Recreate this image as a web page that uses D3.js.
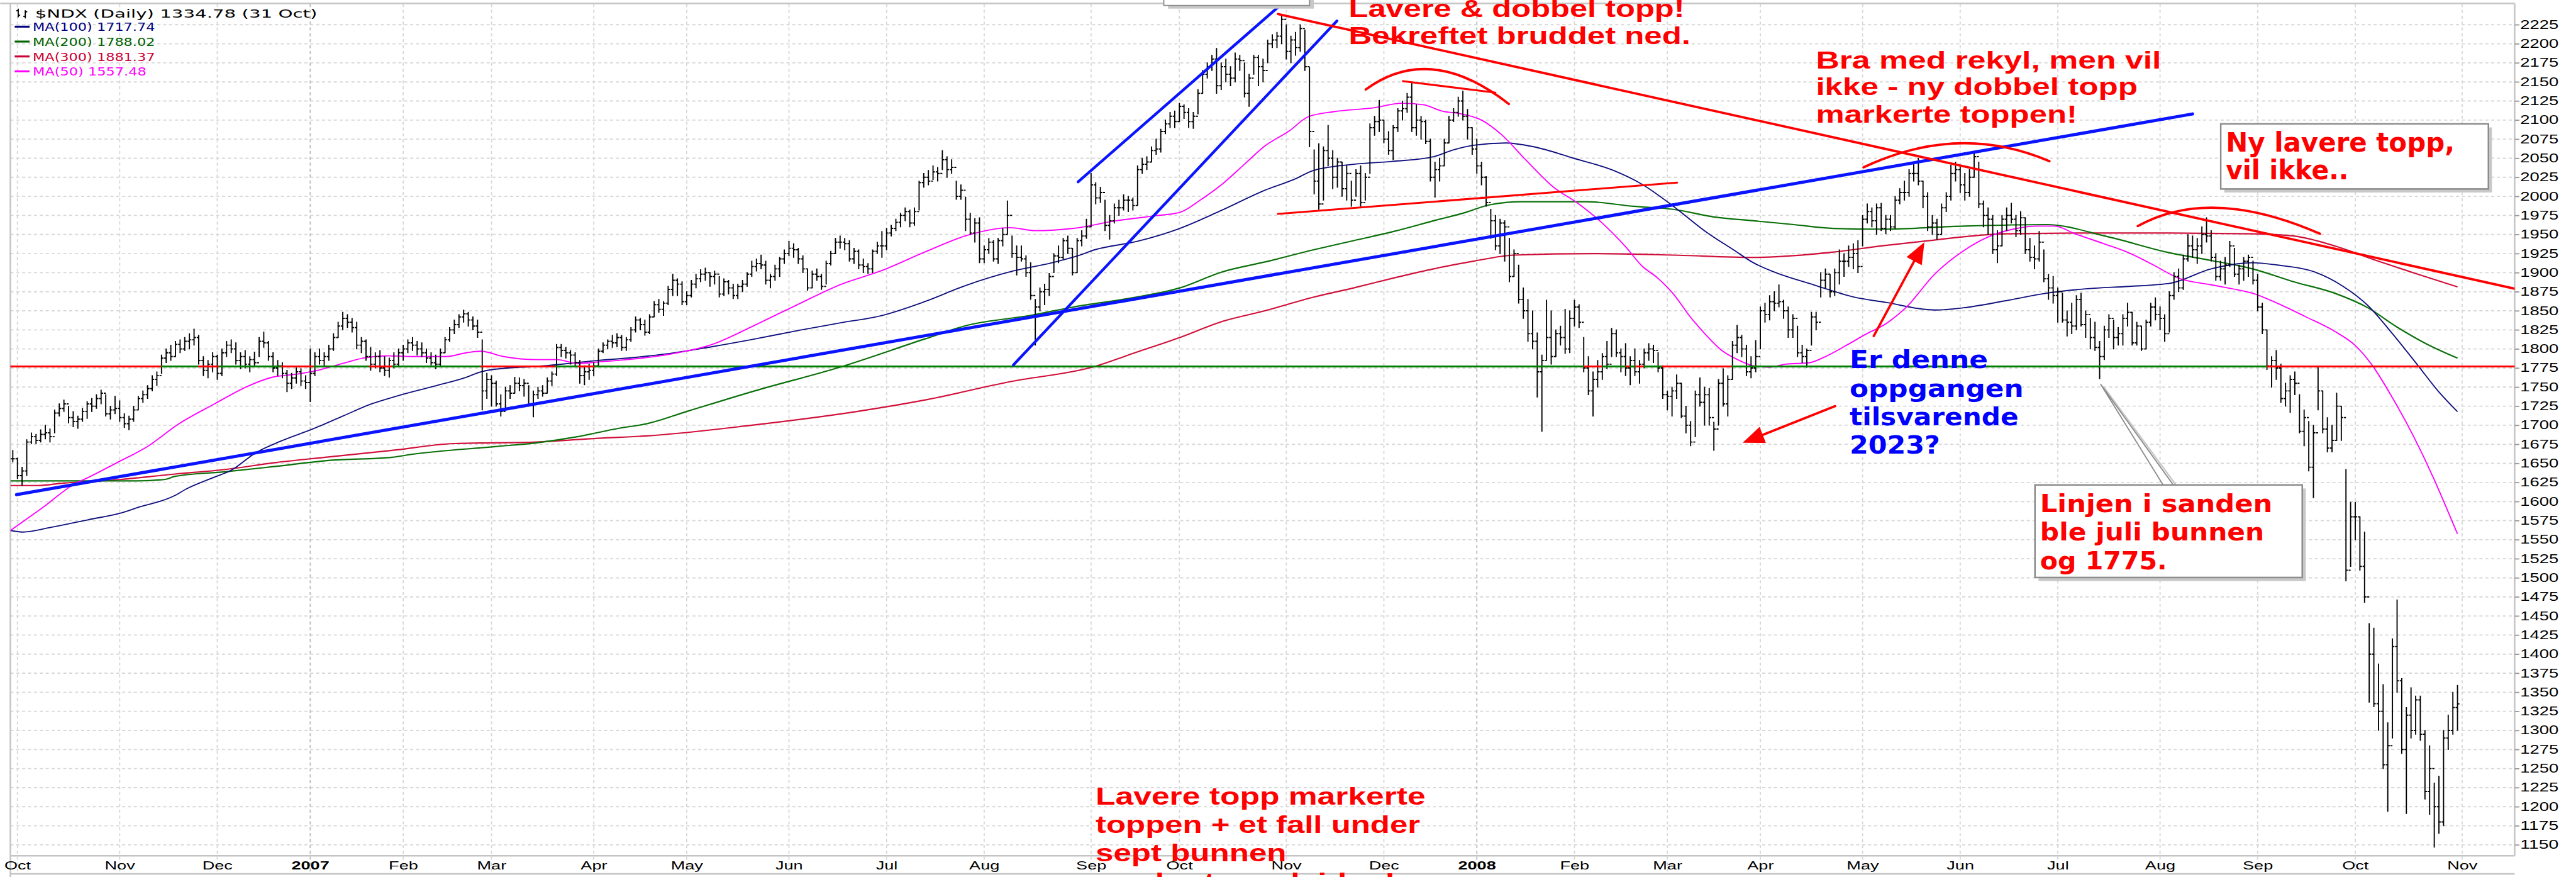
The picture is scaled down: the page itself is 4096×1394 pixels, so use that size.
<!DOCTYPE html>
<html>
<head>
<meta charset="utf-8">
<script src="https://cdn.jsdelivr.net/npm/d3@7/dist/d3.min.js"></script>
<style>
  html, body { margin: 0; padding: 0; background: #fff; overflow: hidden; }
  svg { display: block; }
</style>
</head>
<body>
<script>
// Daily bars: [high, low, close], one array per month
const sep06 = [[1667,1652,1656]];
const oct06 = [[1657,1630,1634],[1645,1621,1640],[1681,1634,1678],[1690,1676,1685],[1688,1676,1680],[1694,1678,1688],[1700,1682,1690],[1695,1678,1685],[1720,1690,1716],[1728,1712,1722],[1733,1718,1728],[1725,1703,1710],[1718,1698,1705],[1712,1696,1708],[1722,1705,1718],[1731,1709,1728],[1735,1718,1725],[1740,1722,1735],[1746,1728,1742],[1740,1712,1715],[1725,1708,1720],[1738,1715,1722]];
const nov06 = [[1732,1705,1710],[1715,1697,1702],[1712,1694,1708],[1725,1705,1720],[1738,1720,1735],[1745,1730,1740],[1752,1735,1748],[1765,1745,1760],[1770,1752,1765],[1792,1768,1788],[1800,1782,1795],[1805,1785,1790],[1810,1790,1806],[1812,1795,1800],[1815,1798,1810],[1820,1800,1812],[1826,1805,1815],[1818,1780,1785],[1790,1765,1772],[1785,1762,1780],[1795,1770,1790]];
const dec06 = [[1792,1760,1768],[1800,1765,1795],[1810,1790,1805],[1812,1795,1800],[1808,1780,1785],[1795,1774,1790],[1798,1775,1780],[1790,1770,1786],[1796,1778,1782],[1815,1790,1810],[1822,1802,1808],[1810,1785,1790],[1795,1770,1775],[1785,1765,1778],[1782,1762,1768],[1772,1744,1755],[1768,1748,1762],[1775,1755,1770],[1774,1752,1758],[1765,1748,1756]];
const jan07 = [[1800,1731,1768],[1795,1765,1790],[1800,1780,1785],[1795,1778,1790],[1805,1785,1800],[1820,1798,1815],[1835,1815,1830],[1848,1825,1840],[1845,1828,1835],[1840,1822,1828],[1835,1800,1805],[1815,1795,1810],[1812,1785,1790],[1802,1772,1780],[1795,1775,1790],[1798,1770,1775],[1790,1765,1772],[1788,1763,1785],[1795,1775,1780],[1800,1778,1795]];
const feb07 = [[1805,1785,1800],[1812,1795,1808],[1815,1798,1805],[1810,1792,1800],[1808,1790,1795],[1800,1782,1788],[1795,1779,1782],[1792,1774,1780],[1800,1778,1795],[1815,1795,1812],[1828,1810,1825],[1838,1820,1832],[1845,1828,1842],[1851,1835,1846],[1848,1830,1838],[1842,1825,1830],[1838,1815,1822],[1812,1720,1745],[1768,1735,1760]];
const mar07 = [[1765,1725,1755],[1758,1725,1728],[1740,1712,1718],[1750,1722,1745],[1752,1735,1742],[1763,1742,1755],[1762,1745,1752],[1760,1738,1755],[1752,1725,1728],[1745,1711,1740],[1750,1735,1745],[1752,1738,1742],[1762,1742,1758],[1770,1752,1767],[1806,1765,1802],[1806,1790,1798],[1802,1788,1795],[1798,1780,1792],[1795,1777,1782],[1785,1755,1765],[1778,1753,1770],[1780,1760,1772]];
const apr07 = [[1782,1765,1778],[1800,1778,1797],[1808,1795,1805],[1812,1800,1810],[1818,1802,1808],[1820,1803,1815],[1818,1798,1802],[1815,1798,1812],[1828,1810,1825],[1842,1822,1838],[1840,1825,1832],[1838,1818,1822],[1845,1820,1842],[1862,1842,1858],[1865,1848,1852],[1862,1844,1860],[1882,1858,1878],[1898,1870,1890],[1892,1870,1885],[1888,1858,1862]];
const may07 = [[1875,1858,1870],[1890,1868,1885],[1898,1880,1892],[1904,1888,1898],[1906,1890,1900],[1900,1882,1895],[1902,1885,1898],[1895,1868,1872],[1892,1870,1888],[1890,1872,1880],[1885,1866,1870],[1885,1866,1882],[1890,1875,1885],[1900,1882,1898],[1915,1895,1908],[1918,1902,1912],[1923,1905,1910],[1915,1885,1890],[1898,1880,1895],[1910,1890,1905],[1920,1895,1918],[1930,1912,1925]];
const jun07 = [[1941,1922,1932],[1938,1920,1930],[1932,1912,1918],[1922,1900,1905],[1905,1877,1880],[1902,1880,1898],[1905,1890,1895],[1898,1878,1882],[1915,1885,1912],[1928,1910,1925],[1945,1925,1940],[1948,1932,1940],[1945,1930,1938],[1942,1915,1918],[1932,1912,1928],[1930,1905,1910],[1918,1900,1908],[1912,1899,1905],[1930,1900,1928],[1940,1925,1935],[1954,1920,1935]];
const jul07 = [[1958,1930,1952],[1962,1948,1958],[1970,1955,1966],[1978,1960,1975],[1985,1968,1980],[1982,1960,1965],[1985,1962,1980],[2020,1982,2018],[2030,2012,2025],[2034,2015,2020],[2040,2022,2032],[2038,2020,2030],[2060,2035,2048],[2052,2025,2035],[2048,2030,2038],[2020,1996,2000],[2015,1996,2008],[1999,1955,1970],[1978,1950,1952],[1971,1940,1965],[1972,1913,1918]];
const aug07 = [[1935,1913,1930],[1945,1925,1940],[1942,1915,1918],[1945,1912,1942],[1958,1935,1950],[1994,1950,1975],[1948,1920,1925],[1935,1897,1920],[1935,1915,1918],[1922,1895,1900],[1913,1865,1870],[1865,1805,1855],[1880,1850,1875],[1885,1858,1878],[1899,1870,1895],[1925,1900,1922],[1935,1913,1920],[1945,1918,1942],[1948,1925,1932],[1932,1897,1900],[1945,1900,1942],[1955,1935,1948],[1970,1945,1960]];
const sep07 = [[2030,1960,2015],[2018,1990,1998],[2012,1992,2005],[1995,1955,1962],[1975,1944,1968],[1990,1965,1985],[1995,1975,1985],[2002,1982,1995],[2000,1980,1995],[1998,1982,1988],[2040,1988,2035],[2050,2030,2042],[2052,2035,2045],[2065,2045,2060],[2075,2055,2062],[2088,2058,2085],[2100,2082,2095],[2110,2090,2105],[2112,2090,2098]];
const oct07 = [[2122,2098,2118],[2120,2102,2110],[2115,2090,2098],[2110,2089,2105],[2140,2108,2135],[2165,2135,2160],[2175,2155,2170],[2185,2165,2180],[2194,2135,2145],[2175,2140,2170],[2180,2150,2160],[2170,2145,2155],[2188,2150,2180],[2185,2165,2178],[2175,2130,2135],[2160,2118,2155],[2185,2160,2182],[2185,2145,2170],[2180,2150,2165],[2205,2175,2200],[2212,2195,2205],[2215,2195,2210],[2238,2200,2232]];
const nov07 = [[2225,2180,2190],[2210,2175,2205],[2215,2185,2195],[2225,2190,2220],[2218,2165,2170],[2169,2065,2085],[2061,2003,2020],[2069,1983,1990],[2065,1995,2060],[2093,2040,2050],[2060,2010,2025],[2050,2012,2045],[2045,2000,2010],[2040,1995,2030],[2020,1987,1995],[2035,2000,2030],[2040,1987,1992],[2030,1995,2025],[2095,2030,2090],[2105,2080,2098],[2126,2085,2100]];
const dec07 = [[2100,2070,2075],[2085,2055,2060],[2093,2048,2090],[2115,2085,2112],[2125,2100,2115],[2135,2110,2130],[2149,2085,2090],[2120,2080,2100],[2105,2075,2098],[2100,2069,2072],[2075,2020,2025],[2045,1999,2035],[2050,2020,2040],[2075,2040,2070],[2105,2070,2100],[2115,2098,2110],[2130,2105,2125],[2138,2100,2105],[2114,2075,2090],[2090,2055,2062]];
const jan08 = [[2075,2030,2040],[2045,2015,2025],[2026,1987,1992],[1983,1945,1968],[1975,1930,1935],[1970,1925,1965],[1968,1915,1960],[1945,1888,1895],[1930,1895,1925],[1910,1860,1865],[1880,1840,1850],[1865,1810,1820],[1850,1800,1810],[1821,1737,1770],[1792,1692,1785],[1864,1785,1815],[1850,1780,1790],[1825,1790,1820],[1830,1805,1815],[1852,1794,1800],[1850,1795,1840]];
const feb08 = [[1864,1830,1855],[1858,1828,1835],[1815,1770,1775],[1790,1740,1745],[1770,1712,1760],[1785,1750,1770],[1794,1760,1790],[1810,1774,1780],[1827,1790,1820],[1825,1790,1795],[1800,1770,1790],[1807,1765,1775],[1790,1753,1785],[1800,1765,1770],[1785,1755,1780],[1800,1775,1795],[1807,1785,1800],[1805,1782,1798],[1795,1770,1775],[1778,1735,1740]];
const mar08 = [[1745,1720,1738],[1750,1712,1745],[1766,1735,1755],[1755,1710,1712],[1725,1690,1700],[1705,1673,1678],[1745,1685,1740],[1762,1725,1730],[1750,1700,1740],[1748,1700,1710],[1704,1667,1695],[1760,1700,1755],[1774,1725,1728],[1765,1712,1760],[1810,1760,1805],[1831,1795,1815],[1818,1790,1800],[1805,1765,1770],[1790,1762,1775],[1811,1770,1790]];
const apr08 = [[1855,1800,1850],[1860,1835,1845],[1870,1838,1862],[1875,1850,1860],[1884,1855,1862],[1864,1840,1850],[1855,1815,1825],[1845,1815,1840],[1830,1790,1795],[1805,1782,1790],[1800,1776,1798],[1848,1805,1842],[1848,1825,1835],[1900,1868,1890],[1905,1880,1898],[1898,1868,1875],[1905,1870,1900],[1930,1885,1915],[1925,1895,1915],[1935,1908,1920],[1938,1905,1925],[1942,1900,1908]];
const may08 = [[1975,1935,1970],[1990,1965,1980],[1985,1960,1968],[1990,1950,1985],[1991,1955,1958],[1975,1951,1970],[1975,1955,1960],[2000,1958,1995],[2010,1990,2005],[2020,1995,2005],[2035,2000,2030],[2042,2020,2030],[2050,2015,2020],[2020,1985,2000],[2005,1955,1960],[1975,1950,1965],[1970,1944,1950],[1990,1950,1985],[2005,1980,2000],[2041,1995,2030],[2045,2020,2035]];
const jun08 = [[2040,2005,2015],[2030,1995,2005],[2035,2000,2025],[2056,2025,2052],[2045,1985,1990],[1994,1960,1975],[1985,1950,1970],[1975,1925,1930],[1955,1913,1935],[1975,1935,1970],[1985,1955,1975],[1991,1965,1970],[1975,1947,1955],[1980,1950,1972],[1972,1925,1930],[1945,1915,1920],[1935,1905,1918],[1954,1915,1940],[1930,1888,1892],[1898,1865,1880],[1895,1860,1870]];
const jul08 = [[1880,1835,1875],[1873,1835,1838],[1850,1817,1835],[1860,1820,1830],[1870,1825,1865],[1873,1830,1832],[1850,1815,1845],[1840,1800,1815],[1835,1798,1802],[1810,1761,1790],[1830,1786,1825],[1845,1815,1840],[1838,1800,1815],[1828,1805,1820],[1845,1805,1840],[1860,1830,1848],[1848,1805,1808],[1835,1805,1830],[1830,1798,1800],[1838,1800,1835],[1860,1830,1855],[1867,1838,1845]];
const aug08 = [[1855,1825,1840],[1845,1810,1820],[1875,1822,1870],[1900,1865,1895],[1905,1875,1880],[1923,1878,1918],[1950,1915,1935],[1948,1920,1930],[1945,1912,1935],[1960,1925,1950],[1972,1940,1948],[1955,1915,1920],[1925,1890,1895],[1915,1890,1905],[1920,1885,1910],[1941,1908,1935],[1932,1895,1898],[1910,1885,1905],[1920,1890,1915],[1923,1895,1920],[1915,1885,1890]];
const sep08 = [[1898,1850,1855],[1860,1820,1825],[1825,1773,1778],[1790,1750,1785],[1798,1760,1775],[1780,1730,1735],[1755,1725,1745],[1765,1717,1760],[1770,1740,1755],[1740,1690,1692],[1720,1673,1710],[1705,1640,1645],[1700,1605,1690],[1776,1720,1745],[1745,1690,1695],[1710,1665,1670],[1700,1665,1680],[1742,1680,1725],[1725,1680,1710],[1642,1496,1510],[1599,1515,1580]];
const oct08 = [[1599,1550,1580],[1580,1510,1515],[1560,1468,1475],[1440,1337,1400],[1434,1331,1335],[1387,1300,1325],[1360,1250,1255],[1310,1194,1280],[1420,1290,1410],[1471,1350,1365],[1368,1270,1275],[1330,1191,1320],[1356,1290,1300],[1345,1295,1340],[1345,1287,1295],[1300,1210,1220],[1280,1190,1250],[1231,1147,1200],[1240,1165,1180],[1300,1175,1290],[1320,1275,1300],[1350,1295,1330],[1359,1300,1334.78]];

const monthBars = [sep06, oct06, nov06, dec06, jan07, feb07, mar07, apr07, may07, jun07, jul07, aug07, sep07,
  oct07, nov07, dec07, jan08, feb08, mar08, apr08, may08, jun08, jul08, aug08, sep08, oct08];
// label for the gridline at the first trading day of oct06 ... oct08, then the next month
const monthLabels = ["Oct","Nov","Dec","2007","Feb","Mar","Apr","May","Jun","Jul","Aug","Sep","Oct",
  "Nov","Dec","2008","Feb","Mar","Apr","May","Jun","Jul","Aug","Sep","Oct","Nov"];

// moving averages: [trading day, value]
const ma50 = [[-1.5,1562],[5.2,1591],[12.3,1623],[15.4,1632],[21.1,1650],[28.2,1673],[34.5,1701],[42.4,1728],[49.5,1751],[54.9,1763],[60.2,1767],[64.6,1772],[70,1781],[74.4,1788],[79.7,1791],[85,1790],[92.2,1790],[96.6,1795],[99.7,1797],[104.6,1790],[111.7,1786],[116.1,1786],[120.5,1781],[125,1783],[131.2,1786],[140.3,1793],[149.5,1806],[158.6,1831],[167.8,1858],[176.9,1884],[186.1,1903],[195.2,1927],[204.4,1949],[213.5,1959],[219,1955],[227.2,1958],[236.4,1968],[245.5,1975],[250.1,1979],[254.7,1996],[259.2,2016],[263.8,2041],[268.4,2066],[273.7,2086],[277.6,2104],[283.2,2111],[291.8,2116],[297.8,2122],[302.6,2120],[306.4,2112],[310.7,2108],[315,2100],[319.3,2081],[324.5,2048],[330.5,2012],[335.7,1991],[340.8,1966],[346,1934],[349.5,1909],[352.9,1893],[356.3,1872],[359.8,1843],[363.2,1819],[366.7,1798],[370.1,1786],[373.5,1778],[377,1776],[380.4,1780],[385.6,1782],[389,1790],[393.3,1804],[397.6,1819],[402,1833],[406.3,1854],[412.5,1898],[418.8,1929],[424.1,1947],[429.4,1957],[434.7,1961],[438.3,1961],[442.7,1951],[448.9,1938],[454.3,1926],[459.6,1910],[464.9,1893],[472,1884],[477.3,1878],[480.9,1873],[486.2,1860],[492.4,1842],[498.6,1823],[503.1,1804],[506.6,1779],[511,1736],[515.5,1686],[519.9,1630],[522.6,1592],[525,1557.5]];
const ma100 = [[-1.5,1562],[1.1,1560],[7.1,1566],[15.1,1576],[22.9,1586],[25.3,1591],[33.9,1608],[36.2,1616],[42.4,1632],[46,1641],[51.3,1664],[56.6,1679],[63.5,1695],[70,1712],[76.2,1728],[81.5,1738],[89.5,1751],[96.6,1763],[99.7,1770],[105.5,1775],[111.7,1777],[118.8,1781],[125,1785],[131.2,1788],[140.3,1794],[149.5,1803],[158.6,1813],[167.8,1824],[176.9,1834],[186.1,1844],[195.2,1862],[204.4,1884],[213.5,1901],[222.6,1913],[228.1,1922],[231.8,1930],[240.9,1941],[250.1,1958],[259.2,1982],[268.4,2008],[274.6,2022],[278.9,2034],[287.5,2042],[296.1,2046],[304.7,2052],[309,2061],[313.3,2067],[320.2,2070],[326.2,2065],[334.8,2050],[343.4,2034],[349.5,2016],[356.3,1987],[363.2,1954],[369.2,1930],[373.5,1913],[377.9,1901],[386.5,1884],[395.1,1868],[402,1861],[412.5,1851],[418.8,1854],[427.6,1863],[436.5,1873],[445.4,1879],[454.3,1882],[463.1,1886],[472,1905],[480.9,1913],[486.2,1910],[494.2,1901],[500.4,1882],[505.7,1857],[511,1820],[516.4,1779],[520.8,1745],[525,1717.7]];
const ma200 = [[-1.5,1627],[12.4,1627],[25.9,1627],[31.8,1629],[33.9,1633],[44.7,1639],[55.4,1646],[67.3,1654],[80.6,1658],[85,1662],[102.8,1672],[111.7,1677],[120.5,1685],[129.4,1696],[135.4,1702],[144,1718],[158.6,1745],[176.9,1776],[195.2,1813],[204.4,1831],[218,1844],[227.2,1855],[240.9,1868],[250.1,1880],[259.2,1901],[268.4,1914],[278.9,1930],[287.5,1942],[296.1,1954],[304.7,1968],[311.6,1979],[316.8,1989],[323.6,1993],[337.4,1993],[347.7,1987],[356.3,1983],[365,1973],[373.5,1968],[382.2,1963],[390.8,1958],[401,1957],[418.8,1961],[436.5,1963],[449.8,1947],[463.1,1926],[472,1916],[480.9,1905],[489.8,1888],[498.6,1873],[505.7,1854],[511.9,1829],[518.2,1807],[525,1788]];
const ma300 = [[-1.5,1621],[4.4,1621],[9.7,1624],[20.5,1628],[33.9,1636],[44.7,1642],[55.4,1651],[66.2,1658],[80.6,1667],[93.9,1676],[111.7,1678],[125,1683],[135.4,1686],[158,1700],[180.6,1718],[195.2,1733],[213.5,1757],[231.8,1777],[240.9,1796],[250.1,1815],[259.2,1836],[268.4,1850],[278.9,1868],[287.5,1880],[296.1,1893],[304.7,1905],[313.3,1915],[321.9,1923],[339.1,1925],[356.3,1923],[373.5,1920],[390.8,1927],[401,1935],[409.9,1941],[427.6,1951],[445.4,1952],[463.1,1952],[480.9,1951],[489.8,1948],[498.6,1935],[507.5,1916],[516.4,1898],[525,1881.4]];

const legendItems = [
  { label: "MA(100) 1717.74", color: "#000080", width: 312 },
  { label: "MA(200) 1788.02", color: "#006400", width: 312 },
  { label: "MA(300) 1881.37", color: "#cc0033", width: 312 },
  { label: "MA(50) 1557.48",  color: "#ff00ff", width: 290 }
];
const priceTicks = d3.range(1150, 2226, 25);

// hand drawn overlays, in [trading day, value]
const blueLines = [
  { from: [-0.2, 1609], to: [468.0, 2108], w: 8 },
  { from: [228.2, 2019], to: [271.6, 2250], w: 7 },
  { from: [214.3, 1779], to: [283.9, 2230], w: 7 }
];
const redLines = [
  { from: [271.2, 2239], to: [537.3, 1879], w: 6 },
  { from: [271.2, 1977], to: [357.1, 2018], w: 5 },
  { from: [298.1, 2151], to: [318.0, 2136], w: 5 }
];
const redArcs = [
  [[290.1, 2140], [303.9, 2202], [320.9, 2121]],
  [[397.2, 2038], [417.7, 2097], [437.2, 2046]],
  [[456.2, 1961], [471.8, 2014], [495.4, 1951]]
];
const redArrows = [
  { from: [399.4, 1817], to: [410.3, 1940] },
  { from: [391.1, 1725], to: [371.2, 1677] }
];
const sandLevel = 1777;
const greenOnSand = [[30.9,38.9],[43.3,56.7],[63.7,75.7],[80.6,99.7],[115.7,120.6],[124.1,337.0],
  [340.9,346.0],[346.9,348.1],[349.9,353.8],[368.8,484.0]];

const notes = [
  { lines: ["Lavere & dobbel topp!", "Bekreftet bruddet ned."], x: 3441, ys: [43, 113], widths: [857, 872],
    size: 63, font: "Liberation Sans, Arial, sans-serif", color: "#ff0000" },
  { lines: ["Bra med rekyl, men vil", "ikke - ny dobbel topp", "markerte toppen!"], x: 4633, ys: [175, 243, 313],
    widths: [881, 821, 667], size: 63, font: "Liberation Sans, Arial, sans-serif", color: "#ff0000" },
  { lines: ["Ny lavere topp,", "vil ikke.."], x: 5679, ys: [387, 458], widths: [584, 313],
    size: 68, font: "DejaVu Sans, Verdana, sans-serif", color: "#ff0000", box: [5666, 316, 6349, 482] },
  { lines: ["Linjen i sanden", "ble juli bunnen", "og 1775."], x: 5205, ys: [1306, 1379, 1452], widths: [593, 572, 324],
    size: 64, font: "DejaVu Sans, Verdana, sans-serif", color: "#ff0000", box: [5192, 1237, 5874, 1473] },
  { lines: ["Er denne", "oppgangen", "tilsvarende", "2023?"], x: 4719, ys: [939, 1012, 1085, 1157],
    widths: [353, 444, 431, 231], size: 62, font: "DejaVu Sans, Verdana, sans-serif", color: "#0000ff" },
  { lines: ["Lavere topp markerte", "toppen + et fall under", "sept bunnen", "markerte nedsiden!"], x: 2795,
    ys: [2052, 2125, 2197, 2270], widths: [842, 828, 487, 765], size: 63, font: "Liberation Sans, Arial, sans-serif", color: "#ff0000" }
];

// ---- layout ----
const W = 6572, H = 2237;
const plot = { left: 26, right: 6416, top: 10, bottom: 2183, band: 2229 };

const svg = d3.select("body").append("svg")
  .attr("width", 4096).attr("height", 1394)
  .attr("viewBox", `0 0 ${W} ${H}`);
svg.append("rect").attr("width", W).attr("height", H).attr("fill", "#fff");

svg.append("defs").append("clipPath").attr("id", "plotclip")
  .append("rect").attr("x", plot.left).attr("y", plot.top)
  .attr("width", plot.right - plot.left).attr("height", plot.bottom - plot.top);

const x = d3.scaleLinear().domain([0, 526]).range([44, 6282]);
const y = d3.scaleLinear().domain([1150, 2225]).range([2155, 63]);

// flatten bars, day index starts at -1 (29 Sep 2006)
const allBars = [].concat(...monthBars);
const days = allBars.map((b, i) => ({
  i: i - 1, h: b[0], l: b[1], c: b[2], o: i > 0 ? allBars[i - 1][2] : b[2]
}));

const monthStarts = [];
let acc = -1;
monthBars.forEach((m, k) => {
  if (k > 0) monthStarts.push(acc);
  acc += m.length;
});
monthStarts.push(acc);

// grid
const grid = svg.append("g");
grid.selectAll("line.h").data(priceTicks).join("line")
  .attr("x1", plot.left).attr("x2", plot.right)
  .attr("y1", d => y(d)).attr("y2", d => y(d))
  .attr("stroke", "#d8d8d8").attr("stroke-width", 3).attr("stroke-dasharray", "8,7");
grid.selectAll("line.v").data(monthStarts).join("line")
  .attr("x1", d => x(d)).attr("x2", d => x(d))
  .attr("y1", plot.top).attr("y2", plot.band)
  .attr("stroke", (d, i) => /^\d/.test(monthLabels[i]) ? "#bdbdbd" : "#d8d8d8")
  .attr("stroke-width", 3).attr("stroke-dasharray", "8,7");

// frame
const frame = svg.append("g").attr("stroke", "#c4c4c4").attr("stroke-width", 4);
frame.append("line").attr("x1", 0).attr("x2", plot.right).attr("y1", 9).attr("y2", 9);
frame.append("line").attr("x1", plot.left).attr("x2", plot.left).attr("y1", 9).attr("y2", H);
frame.append("line").attr("x1", plot.right).attr("x2", plot.right).attr("y1", 9).attr("y2", plot.bottom);
frame.append("line").attr("x1", plot.left).attr("x2", plot.right).attr("y1", plot.bottom).attr("y2", plot.bottom);
frame.append("line").attr("x1", plot.left).attr("x2", plot.right).attr("y1", plot.band).attr("y2", plot.band);

const inner = svg.append("g").attr("clip-path", "url(#plotclip)");

// moving averages
const maLine = d3.line().x(d => x(d[0])).y(d => y(d[1])).curve(d3.curveMonotoneX);
[[ma300, "#d0103a", 3.5], [ma200, "#0a700a", 3.5], [ma100, "#10107f", 3], [ma50, "#ff00ff", 3]]
  .forEach(([data, color, w]) => {
    inner.append("path").datum(data).attr("d", maLine)
      .attr("fill", "none").attr("stroke", color).attr("stroke-width", w);
  });

// price bars
inner.append("g").attr("stroke", "#000").attr("stroke-width", 3).attr("fill", "none")
  .selectAll("path").data(days).join("path")
  .attr("d", d => {
    const cx = x(d.i);
    return `M${cx},${y(d.h) - 1}V${y(d.l) + 1}M${cx - 5},${y(d.o)}H${cx}M${cx},${y(d.c)}H${cx + 5}`;
  });

// overlays
const over = svg.append("g").attr("clip-path", "url(#plotclip)").attr("fill", "none").attr("stroke-linecap", "round");
over.append("line")
  .attr("x1", plot.left).attr("x2", plot.right).attr("y1", y(sandLevel)).attr("y2", y(sandLevel))
  .attr("stroke", "#ff0000").attr("stroke-width", 5);
over.selectAll("line.g").data(greenOnSand).join("line")
  .attr("x1", d => x(d[0])).attr("x2", d => x(d[1]))
  .attr("y1", y(sandLevel)).attr("y2", y(sandLevel))
  .attr("stroke", "#008000").attr("stroke-width", 5).attr("stroke-linecap", "butt");

over.selectAll("line.b").data(blueLines).join("line")
  .attr("x1", d => x(d.from[0])).attr("y1", d => y(d.from[1]))
  .attr("x2", d => x(d.to[0])).attr("y2", d => y(d.to[1]))
  .attr("stroke", "#0a14ff").attr("stroke-width", d => d.w);
over.selectAll("line.r").data(redLines).join("line")
  .attr("x1", d => x(d.from[0])).attr("y1", d => y(d.from[1]))
  .attr("x2", d => x(d.to[0])).attr("y2", d => y(d.to[1]))
  .attr("stroke", "#ff0000").attr("stroke-width", d => d.w);
over.selectAll("path.arc").data(redArcs).join("path")
  .attr("d", d => `M${x(d[0][0])},${y(d[0][1])}Q${x(d[1][0])},${y(d[1][1])} ${x(d[2][0])},${y(d[2][1])}`)
  .attr("stroke", "#ff0000").attr("stroke-width", 6);

function arrowHead(p0, p1, len, half) {
  const a = Math.atan2(p1[1] - p0[1], p1[0] - p0[0]);
  const bx = p1[0] - len * Math.cos(a), by = p1[1] - len * Math.sin(a);
  const nx = -Math.sin(a) * half, ny = Math.cos(a) * half;
  return { base: [bx, by], pts: [p1, [bx + nx, by + ny], [bx - nx, by - ny]] };
}
redArrows.forEach(d => {
  const p0 = [x(d.from[0]), y(d.from[1])], p1 = [x(d.to[0]), y(d.to[1])];
  const head = arrowHead(p0, p1, 55, 22);
  over.append("line").attr("x1", p0[0]).attr("y1", p0[1]).attr("x2", head.base[0]).attr("y2", head.base[1])
    .attr("stroke", "#ff0000").attr("stroke-width", 6);
  over.append("polygon").attr("points", head.pts.map(p => p.join(",")).join(" "))
    .attr("fill", "#ff0000").attr("stroke", "none");
});

// callout from the sand box to the july low
const tip = [x(448.2), y(1754)];
const callout = svg.append("g");
callout.append("path").attr("d", `M5528,1240L${tip[0] + 7},${tip[1] + 6}L5554,1240`)
  .attr("fill", "none").attr("stroke", "#c8c8c8").attr("stroke-width", 4);
callout.append("path").attr("d", `M5519,1237L${tip[0]},${tip[1]}L5545,1237`)
  .attr("fill", "#fff").attr("stroke", "#8c8c8c").attr("stroke-width", 3);

// notes
const noteG = svg.append("g");
notes.forEach(n => {
  if (n.box) {
    const [x0, y0, x1, y1] = n.box;
    noteG.append("rect").attr("x", x0 + 9).attr("y", y0 + 9).attr("width", x1 - x0).attr("height", y1 - y0)
      .attr("fill", "#c8c8c8");
    noteG.append("rect").attr("x", x0).attr("y", y0).attr("width", x1 - x0).attr("height", y1 - y0)
      .attr("fill", "#fff").attr("stroke", "#8c8c8c").attr("stroke-width", 4);
  }
  n.lines.forEach((t, k) => {
    noteG.append("text").attr("x", n.x).attr("y", n.ys[k])
      .attr("font-family", n.font).attr("font-weight", "bold").attr("font-size", n.size)
      .attr("fill", n.color)
      .attr("textLength", n.widths[k]).attr("lengthAdjust", "spacingAndGlyphs")
      .text(t);
  });
});

// bottom axis (month names)
const xAxis = d3.axisBottom(x).tickValues(monthStarts).tickSize(0).tickPadding(13)
  .tickFormat((d, i) => monthLabels[i]);
svg.append("g").attr("transform", `translate(0,${plot.bottom})`).call(xAxis)
  .call(g => g.select(".domain").remove())
  .call(g => g.selectAll(".tick text")
    .attr("font-family", "Liberation Sans, Arial, sans-serif")
    .attr("font-size", 30).attr("fill", "#000")
    .attr("font-weight", d => /^\d/.test(monthLabels[monthStarts.indexOf(d)]) ? "bold" : "normal")
    .each(function () {
      const w = this.getComputedTextLength();
      d3.select(this).attr("textLength", w * 1.45).attr("lengthAdjust", "spacingAndGlyphs");
    }));

// right axis
const yAxis = d3.axisRight(y).tickValues(priceTicks).tickSize(12).tickPadding(3).tickFormat(d3.format("d"));
svg.append("g").attr("transform", `translate(${plot.right},0)`).call(yAxis)
  .call(g => g.select(".domain").remove())
  .call(g => g.selectAll(".tick line").attr("stroke", "#9a9a9a").attr("stroke-width", 3))
  .call(g => g.selectAll(".tick text")
    .attr("x", 14).attr("font-family", "Liberation Sans, Arial, sans-serif")
    .attr("font-size", 31).attr("fill", "#000")
    .attr("textLength", 98).attr("lengthAdjust", "spacingAndGlyphs"));

// legend
const leg = svg.append("g");
const icon = leg.append("g").attr("stroke", "#000").attr("stroke-width", 3).attr("fill", "none");
icon.append("path").attr("d", "M46,22V44M41,27H46M46,39H51");
icon.append("path").attr("d", "M64,26V47M59,42H64M64,30H69");
leg.append("text").attr("x", 89).attr("y", 45)
  .attr("font-family", "DejaVu Sans, Verdana, sans-serif").attr("font-size", 28).attr("fill", "#000")
  .attr("textLength", 720).attr("lengthAdjust", "spacingAndGlyphs")
  .text("$NDX (Daily) 1334.78 (31 Oct)");
legendItems.forEach((d, k) => {
  const cy = 68 + k * 38;
  leg.append("line").attr("x1", 37).attr("x2", 75).attr("y1", cy).attr("y2", cy)
    .attr("stroke", d.color).attr("stroke-width", 5);
  leg.append("text").attr("x", 83).attr("y", cy + 11)
    .attr("font-family", "DejaVu Sans, Verdana, sans-serif").attr("font-size", 29).attr("fill", d.color)
    .attr("textLength", d.width).attr("lengthAdjust", "spacingAndGlyphs")
    .text(d.label);
});

// small header box on the top edge
svg.append("rect").attr("x", 2980).attr("y", -10).attr("width", 372).attr("height", 32).attr("fill", "#c8c8c8");
svg.append("rect").attr("x", 2969).attr("y", -12).attr("width", 372).attr("height", 26)
  .attr("fill", "#fff").attr("stroke", "#8c8c8c").attr("stroke-width", 3);
</script>
</body>
</html>
